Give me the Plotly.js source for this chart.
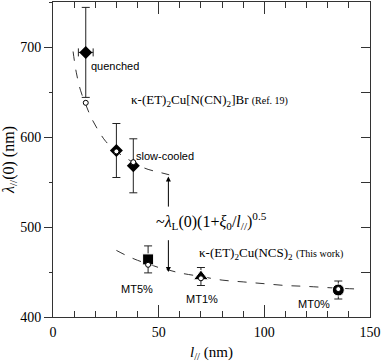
<!DOCTYPE html>
<html>
<head>
<meta charset="utf-8">
<script src="https://cdn.plot.ly/plotly-3.0.1.min.js"></script>
<style>
  html, body { margin: 0; padding: 0; background: #fff; }
  #chart { width: 382px; height: 362px; }
</style>
</head>
<body>
<div id="chart"></div>
<script>
// measured points, kappa-(ET)2Cu[N(CN)2]Br (Ref. 19)
const brL = [15.5, 30, 38];
const brLambda = [694, 585, 568];
const brErrY = [50, 30, 30];
const brErrX = [3.5, 0, 0];

// measured points, kappa-(ET)2Cu(NCS)2 (this work)
const ncsL = [45, 70, 135];
const ncsLambda = [464, 445, 430];
const ncsErrY = [15, 10, 10];
const ncsSymbols = ['square', 'triangle-up', 'circle'];
const ncsLabels = ['MT5%', 'MT1%', 'MT0%'];

// small open circles (calculated values)
const calcL = [15.5, 30, 38, 45, 70, 135];
const calcLambda = [638, 584, 572, 458, 443, 431];

// dashed fit curves
const brFitL = [9.5, 11, 13, 15.5, 18, 21, 25, 30, 35, 40, 45, 50, 55];
const brFitLambda = [695, 672, 652, 636, 622, 609, 595, 584, 576, 569, 564, 561, 558];
const ncsFitL = [30, 35, 40, 45, 50, 55, 60, 70, 80, 90, 100, 110, 120, 135, 145];
const ncsFitLambda = [474, 468, 463, 459, 455, 452, 449, 445, 441, 439, 437, 435, 434, 432, 431];

const serif = 'Liberation Serif, Times New Roman, serif';
const sans = 'Liberation Sans, Arial, sans-serif';
const axisColor = '#333';

const traces = [
    {
        x: brFitL, y: brFitLambda, type: 'scatter', mode: 'lines',
        line: { color: '#333', width: 1, dash: 'dash', shape: 'spline' },
        hoverinfo: 'skip'
    },
    {
        x: ncsFitL, y: ncsFitLambda, type: 'scatter', mode: 'lines',
        line: { color: '#333', width: 1, dash: 'dash', shape: 'spline' },
        hoverinfo: 'skip'
    },
    {
        x: brL, y: brLambda, type: 'scatter', mode: 'markers',
        marker: { symbol: 'diamond', size: 10, color: '#000', opacity: 1 },
        error_y: { type: 'data', array: brErrY, color: '#222', thickness: 1, width: 4 },
        error_x: { type: 'data', array: brErrX, color: '#222', thickness: 1, width: 4 }
    },
    {
        x: ncsL, y: ncsLambda, type: 'scatter', mode: 'markers',
        marker: { symbol: ncsSymbols, size: [11, 13, 12], color: '#000', opacity: 1 },
        error_y: { type: 'data', array: ncsErrY, color: '#222', thickness: 1, width: 4 }
    },
    {
        x: calcL, y: calcLambda, type: 'scatter', mode: 'markers',
        marker: { symbol: 'circle', size: 5, color: '#fff', line: { color: '#000', width: 1 } }
    },
    // invisible trace so the top and right axes get drawn
    { x: [0], y: [400], xaxis: 'x2', yaxis: 'y2', mode: 'markers', marker: { opacity: 0 }, hoverinfo: 'skip' }
];

const labelPos = [[39.8, 431], [70.5, 420], [123.3, 415]];
const annotations = ncsLabels.map((t, i) => ({
    x: labelPos[i][0], y: labelPos[i][1], text: t, showarrow: false,
    font: { family: sans, size: 11, color: '#000' }
}));

annotations.push(
    { x: 17, y: 679, text: 'quenched', xanchor: 'left', showarrow: false,
      font: { family: sans, size: 11, color: '#000' } },
    { x: 38.3, y: 579, text: 'slow-cooled', xanchor: 'left', showarrow: false,
      font: { family: sans, size: 11, color: '#000' } },
    { x: 36, y: 641, xanchor: 'left', showarrow: false,
      text: 'κ-(ET)<sub>2</sub>Cu[N(CN)<sub>2</sub>]Br <span style="font-size:10px">(Ref. 19)</span>',
      font: { family: serif, size: 13, color: '#000' } },
    { x: 68.1, y: 471, xanchor: 'left', showarrow: false,
      text: 'κ-(ET)<sub>2</sub>Cu(NCS)<sub>2</sub> <span style="font-size:10px">(This work)</span>',
      font: { family: serif, size: 13, color: '#000' } },
    { x: 75.1, y: 507, showarrow: false,
      text: '~<i>λ</i><sub>L</sub>(0)(1+<i>ξ</i><sub>0</sub>/<i>l</i><sub>//</sub>)<sup>0.5</sup>',
      font: { family: serif, size: 16, color: '#000' } },
    // arrows
    { x: 54.6, y: 556, ax: 54.6, ay: 521, axref: 'x', ayref: 'y', text: '',
      showarrow: true, arrowhead: 2, arrowsize: 1, arrowwidth: 1, arrowcolor: '#000' },
    { x: 54.6, y: 450, ax: 54.6, ay: 487, axref: 'x', ayref: 'y', text: '',
      showarrow: true, arrowhead: 2, arrowsize: 1, arrowwidth: 1, arrowcolor: '#000' }
);

const xTicks = {
    range: [0, 150],
    dtick: 50,
    tick0: 0,
    ticks: 'inside',
    ticklen: 12,
    tickcolor: axisColor,
    showline: true,
    linecolor: axisColor,
    showgrid: false,
    zeroline: false,
    minor: { dtick: 10, ticks: 'inside', ticklen: 6, tickcolor: axisColor, showgrid: false }
};

const layout = {
    width: 382,
    height: 362,
    margin: { l: 53, r: 12, t: 2, b: 45 },
    paper_bgcolor: '#fff',
    plot_bgcolor: '#fff',
    showlegend: false,
    xaxis: Object.assign({}, xTicks, {
        tickfont: { family: serif, size: 14, color: '#000' },
        ticklabelstandoff: 2,
        title: { text: '<i>l</i><sub>//</sub> (nm)', font: { family: serif, size: 15, color: '#000' }, standoff: 8 }
    }),
    xaxis2: Object.assign({}, xTicks, {
        overlaying: 'x',
        side: 'top',
        showticklabels: false
    }),
    yaxis: {
        range: [400, 750],
        dtick: 100,
        tick0: 400,
        ticks: 'outside',
        ticklen: 8,
        tickcolor: axisColor,
        showline: true,
        linecolor: axisColor,
        showgrid: false,
        zeroline: false,
        minor: { dtick: 50, ticks: 'outside', ticklen: 3, tickcolor: axisColor, showgrid: false },
        tickfont: { family: serif, size: 14, color: '#000' },
        title: { text: '<i>λ</i><sub>//</sub>(0) (nm)', font: { family: serif, size: 16, color: '#000' }, standoff: 6 }
    },
    yaxis2: {
        range: [400, 750],
        overlaying: 'y',
        side: 'right',
        dtick: 50,
        tick0: 400,
        ticks: 'inside',
        ticklen: 9,
        tickcolor: axisColor,
        showline: true,
        linecolor: axisColor,
        showticklabels: false,
        showgrid: false,
        zeroline: false
    },
    annotations: annotations
};

Plotly.newPlot('chart', traces, layout, { displayModeBar: false, staticPlot: true });
</script>
</body>
</html>
